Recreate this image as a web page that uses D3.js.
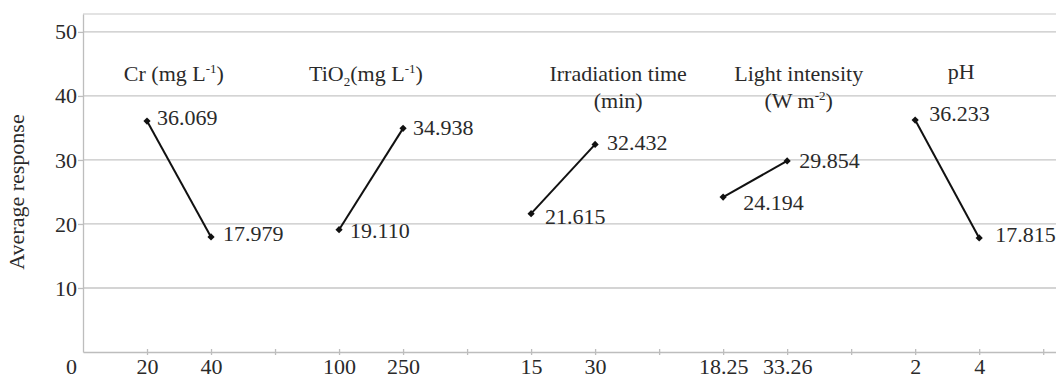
<!DOCTYPE html>
<html>
  <head>
    <meta charset="utf-8">
    <title>Main effects</title>
    <script src="https://d3js.org/d3.v7.min.js"></script>
    <style>
      body { margin: 0; background: #fff; }
      svg text { font-family: "Liberation Serif", "Times New Roman", serif; fill: #2a2a2a; }
    </style>
  </head>
  <body>
    <script>
      var width = 1056;
      var height = 379;

      // data
      var factors = ["Cr", "TiO2", "Irradiation time", "Light intensity", "pH"];
      var levels = [["20", "40"], ["100", "250"], ["15", "30"], ["18.25", "33.26"], ["2", "4"]];
      var responses = [[36.069, 17.979], [19.110, 34.938], [21.615, 32.432], [24.194, 29.854], [36.233, 17.815]];
      var yTicks = [10, 20, 30, 40, 50];

      // factor titles: [text, kind] pieces, one list per line
      var titleLines = [
        [[["Cr (mg L", ""], ["-1", "sup"], [")", ""]]],
        [[["TiO", ""], ["2", "sub"], ["(mg L", ""], ["-1", "sup"], [")", ""]]],
        [[["Irradiation time", ""]], [["(min)", ""]]],
        [[["Light intensity", ""]], [["(W m", ""], ["-2", "sup"], [")", ""]]],
        [[["pH", ""]]]
      ];

      // layout tweaks (slot units / pixels), not data
      var titleCenter = [1.42, 4.42, 8.36, 11.18, 13.72];
      var labelNudge = [[[10, 4], [12, 4]], [[11, 8], [10, 7]], [[14, 10], [12, 6]], [[20, 13], [12, 7]], [[14, 1], [16, 4]]];

      // category slots: two levels per factor, then an empty slot
      var slots = [];
      levels.forEach((lv) => { slots.push(lv[0], lv[1], ""); });

      var margin = {left: 83, right: 0, top: 14, bottom: 27};

      var svg = d3.select("body").append("svg").attr("width", width).attr("height", height);

      var xScale = d3.scaleLinear()
        .domain([0, slots.length + 0.2])
        .range([margin.left, width - margin.right]);

      var yScale = d3.scaleLinear()
        .domain([0, 52.8])
        .range([height - margin.bottom, margin.top]);

      // grid
      svg.append("g")
        .selectAll("line")
        .data(yTicks)
        .enter()
        .append("line")
        .attr("x1", xScale(0))
        .attr("x2", xScale.range()[1])
        .attr("y1", (d) => yScale(d))
        .attr("y2", (d) => yScale(d))
        .attr("stroke", "#c6c6c6")
        .attr("stroke-width", 1.3);

      // top frame
      svg.append("line")
        .attr("x1", xScale(0)).attr("x2", xScale.range()[1])
        .attr("y1", yScale(52.8)).attr("y2", yScale(52.8))
        .attr("stroke", "#dadada").attr("stroke-width", 1.3);

      // y axis
      var axisy = d3.axisLeft(yScale).tickValues(yTicks).tickSize(5).tickSizeOuter(0).tickPadding(1);
      var gy = svg.append("g")
        .attr("transform", "translate(" + xScale(0) + ",0)")
        .call(axisy);
      gy.attr("font-family", null);
      gy.selectAll("path, line").attr("stroke", "#bdbdbd").attr("stroke-width", 1.3);
      gy.selectAll("text").style("font-size", "22px").attr("fill", "#2a2a2a");

      // x axis
      var axisx = d3.axisBottom(xScale)
        .tickValues(d3.range(1, slots.length + 1))
        .tickFormat((d) => slots[d - 1])
        .tickSize(3).tickSizeOuter(0).tickPadding(3);
      var gx = svg.append("g")
        .attr("transform", "translate(0," + yScale(0) + ")")
        .call(axisx);
      gx.attr("font-family", null);
      gx.selectAll("path, line").attr("stroke", "#bdbdbd").attr("stroke-width", 1.3);
      gx.selectAll(".tick line").attr("y1", -3);
      gx.selectAll("text").style("font-size", "22px").attr("fill", "#2a2a2a");

      // zero label sits on the category line
      svg.append("text")
        .attr("x", xScale(0) - 6)
        .attr("y", yScale(0) + 21.5)
        .attr("text-anchor", "end")
        .style("font-size", "22px")
        .text("0");

      // y title
      svg.append("text")
        .attr("transform", "translate(24," + 192 + ") rotate(-90)")
        .attr("text-anchor", "middle")
        .style("font-size", "22px")
        .text("Average response");

      // factor lines, markers, labels
      var groups = svg.append("g")
        .selectAll("g")
        .data(factors)
        .enter()
        .append("g");

      var line = d3.line()
        .x((d) => xScale(d.slot))
        .y((d) => yScale(d.v));

      groups.each(function(f, i) {
        var pts = responses[i].map((v, j) => ({v: v, slot: i * 3 + j + 1, nudge: labelNudge[i][j]}));
        var g = d3.select(this);

        g.append("path")
          .attr("d", line(pts))
          .attr("fill", "none")
          .attr("stroke", "#111")
          .attr("stroke-width", 2);

        g.selectAll("path.mk")
          .data(pts)
          .enter()
          .append("path")
          .attr("class", "mk")
          .attr("d", d3.symbol().type(d3.symbolSquare).size(26))
          .attr("transform", (d) => "translate(" + xScale(d.slot) + "," + yScale(d.v) + ") rotate(45)")
          .attr("fill", "#111");

        g.selectAll("text.val")
          .data(pts)
          .enter()
          .append("text")
          .attr("class", "val")
          .attr("x", (d) => xScale(d.slot) + d.nudge[0])
          .attr("y", (d) => yScale(d.v) + d.nudge[1])
          .style("font-size", "22px")
          .text((d) => d.v.toFixed(3));

        // title
        titleLines[i].forEach((parts, k) => {
          var t = g.append("text")
            .attr("x", xScale(titleCenter[i]))
            .attr("y", (i === 4 ? 79 : 81) + k * 27)
            .attr("text-anchor", "middle")
            .style("font-size", "22px");
          var shift = 0;
          parts.forEach((p) => {
            var target = p[1] === "sup" ? -8 : (p[1] === "sub" ? 5 : 0);
            t.append("tspan")
              .attr("dy", target - shift)
              .style("font-size", p[1] ? "13px" : "22px")
              .text(p[0]);
            shift = target;
          });
        });
      });
    </script>
  </body>
</html>
